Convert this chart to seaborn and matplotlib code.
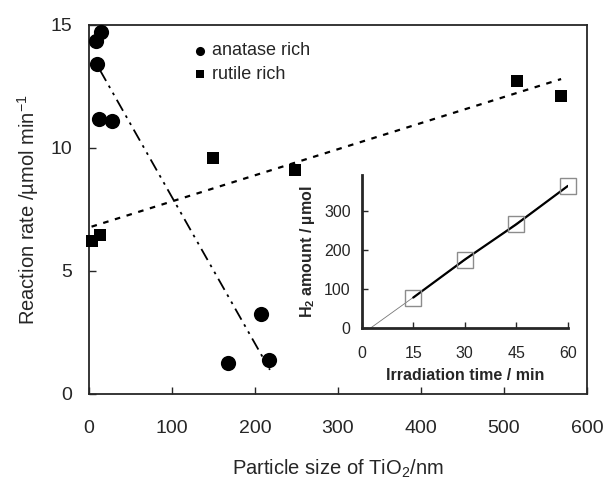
import numpy as np
import pandas as pd
import matplotlib
matplotlib.use("Agg")
import matplotlib.pyplot as plt
import seaborn as sns

# Photocatalytic H2 evolution rate vs. TiO2 particle size
anatase_size = [8, 14.5, 9.6, 11.7, 28, 168, 207, 217]
anatase_rate = [14.36, 14.7, 13.4, 11.17, 11.1, 1.25, 3.25, 1.4]
rutile_size = [3, 13, 150, 248, 516, 569]
rutile_rate = [6.2, 6.46, 9.58, 9.1, 12.74, 12.1]

# Trend lines drawn on the main panel
anatase_trend_x = [13, 218]
anatase_trend_y = [13.17, 0.98]
rutile_trend_x = [3, 569]
rutile_trend_y = [6.8, 12.8]

# Inset: H2 amount over irradiation time
irr_time = [15, 30, 45, 60]
h2_amount = [78, 175, 265, 363]

sns.set_style("ticks")
plt.rcParams["font.family"] = ["Liberation Sans", "DejaVu Sans"]
plt.rcParams["mathtext.fontset"] = "custom"
plt.rcParams["mathtext.rm"] = "Liberation Sans"
plt.rcParams["mathtext.it"] = "Liberation Sans"
plt.rcParams["mathtext.bf"] = "Liberation Sans:bold"

fig = plt.figure(figsize=(6.10, 4.79), dpi=100)
ax = fig.add_axes([0.146, 0.1775, 0.816, 0.7705])

ana = pd.DataFrame({"size": anatase_size, "rate": anatase_rate})
rut = pd.DataFrame({"size": rutile_size, "rate": rutile_rate})

sns.lineplot(x=anatase_trend_x, y=anatase_trend_y, ax=ax, color="black",
             lw=1.3, linestyle=(0, (7, 3, 1.5, 3, 1.5, 3)))
sns.lineplot(x=rutile_trend_x, y=rutile_trend_y, ax=ax, color="black",
             lw=1.6, linestyle=(0, (2.5, 3)))
sns.scatterplot(data=ana, x="size", y="rate", ax=ax, marker="o", s=120,
                color="black", edgecolor="black", linewidth=0, label="anatase rich",
                zorder=5, clip_on=False)
sns.scatterplot(data=rut, x="size", y="rate", ax=ax, marker="s", s=75,
                color="black", edgecolor="black", linewidth=0, label="rutile rich",
                zorder=5, clip_on=False)

ax.set_xlim(0, 600)
ax.set_ylim(0, 15)
ax.set_xticks(range(0, 601, 100))
ax.set_yticks([0, 5, 10, 15])
ax.tick_params(direction="in", length=5, width=1, labelsize=14)
ax.tick_params(axis="x", pad=19)
ax.tick_params(axis="y", pad=12)
for sp in ax.spines.values():
    sp.set_linewidth(1.3)
    sp.set_visible(True)
ax.set_xlabel("Particle size of TiO$_2$/nm", fontsize=14.5, labelpad=15)
ax.set_ylabel("Reaction rate /µmol min$^{-1}$", fontsize=14.5, labelpad=7)

leg = ax.legend(loc="upper left", bbox_to_anchor=(0.19, 0.972), frameon=False,
                fontsize=13, handletextpad=0.15, labelspacing=0.35,
                borderaxespad=0, handlelength=1.0, markerscale=0.6)

# Inset panel
ins = fig.add_axes([0.593, 0.315, 0.338, 0.319])
fit = np.polyfit(irr_time, h2_amount, 1)
x0 = -fit[1] / fit[0]
fit_x = [x0, 60]
fit_y = list(np.polyval(fit, fit_x))
sns.lineplot(x=fit_x, y=fit_y, ax=ins, color="#777777", lw=0.6)
sns.lineplot(x=irr_time, y=h2_amount, ax=ins, color="black", lw=1.6)
ins.plot(irr_time, h2_amount, linestyle="none", marker="s", markersize=11,
         markerfacecolor="none", markeredgecolor="#8c8c8c", markeredgewidth=1.0,
         zorder=5, clip_on=False)
ins.set_xlim(0, 60)
ins.set_ylim(0, 390)
ins.set_xticks([0, 15, 30, 45, 60])
ins.set_yticks([0, 100, 200, 300])
ins.patch.set_alpha(0)
for s in ["top", "right"]:
    ins.spines[s].set_visible(False)
for s in ["left", "bottom"]:
    ins.spines[s].set_linewidth(2)
ins.tick_params(direction="in", length=4, width=1, labelsize=11.5)
ins.tick_params(axis="x", pad=13)
ins.tick_params(axis="y", pad=8)
ins.set_xlabel("Irradiation time / min", fontsize=11.5, fontweight="bold", labelpad=5)
ins.set_ylabel("H$_\\mathbf{2}$ amount / µmol", fontsize=11.5, fontweight="bold", labelpad=5)

fig.savefig("out.png", dpi=100)
